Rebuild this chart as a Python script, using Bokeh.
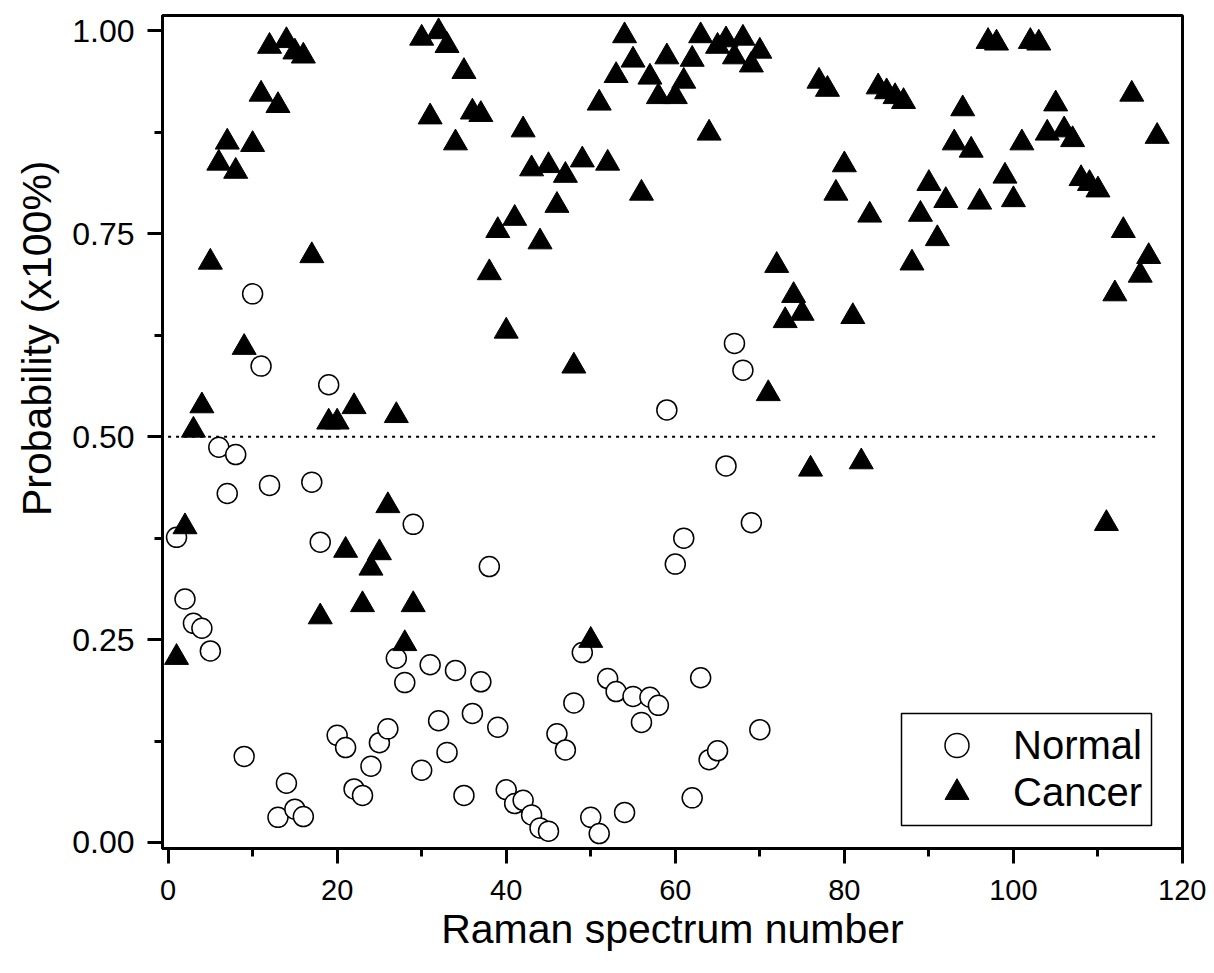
from bokeh.plotting import figure
from bokeh.models import (Range1d, Legend, LegendItem, SingleIntervalTicker, NumeralTickFormatter,
                          Title, BoxAnnotation)
from bokeh.embed import file_html
from bokeh.resources import INLINE

normal_x = list(range(1, 71))
normal_y = [0.376, 0.300, 0.270, 0.264, 0.236, 0.487, 0.430, 0.478, 0.106, 0.676,
            0.587, 0.440, 0.031, 0.073, 0.041, 0.032, 0.444, 0.370, 0.564, 0.132,
            0.117, 0.066, 0.058, 0.094, 0.123, 0.140, 0.227, 0.197, 0.392, 0.089,
            0.219, 0.150, 0.111, 0.212, 0.058, 0.159, 0.198, 0.340, 0.142, 0.065,
            0.048, 0.052, 0.034, 0.018, 0.014, 0.134, 0.114, 0.172, 0.234, 0.031,
            0.011, 0.202, 0.186, 0.037, 0.180, 0.148, 0.179, 0.169, 0.533, 0.343,
            0.375, 0.055, 0.203, 0.102, 0.113, 0.464, 0.615, 0.582, 0.394, 0.139]

cancer_x = list(range(1, 118))
cancer_y = [0.228, 0.389, 0.508, 0.538, 0.715, 0.837, 0.863, 0.827, 0.610, 0.860,
            0.922, 0.981, 0.908, 0.988, 0.974, 0.969, 0.723, 0.278, 0.518, 0.518,
            0.360, 0.537, 0.293, 0.338, 0.357, 0.415, 0.526, 0.245, 0.293, 0.991,
            0.894, 0.999, 0.982, 0.862, 0.950, 0.900, 0.897, 0.702, 0.754, 0.630,
            0.769, 0.878, 0.830, 0.740, 0.834, 0.785, 0.822, 0.587, 0.841, 0.249,
            0.911, 0.837, 0.945, 0.994, 0.964, 0.800, 0.943, 0.919, 0.968, 0.919,
            0.938, 0.965, 0.994, 0.874, 0.981, 0.989, 0.968, 0.991, 0.958, 0.975,
            0.553, 0.711, 0.643, 0.674, 0.652, 0.460, 0.938, 0.928, 0.800, 0.835,
            0.648, 0.469, 0.773, 0.931, 0.925, 0.919, 0.913, 0.714, 0.774, 0.812,
            0.744, 0.791, 0.862, 0.904, 0.853, 0.789, 0.987, 0.985, 0.821, 0.792,
            0.862, 0.987, 0.985, 0.874, 0.910, 0.878, 0.866, 0.818, 0.812, 0.804,
            0.393, 0.676, 0.754, 0.922, 0.699, 0.722, 0.870]

threshold_x = [0, 117]
threshold_y = [0.5, 0.5]

FONT = "Liberation Sans"

p = figure(width=1206, height=965, output_backend="svg", toolbar_location=None,
           x_range=Range1d(-0.66, 120), y_range=Range1d(-0.0074, 1.019),
           min_border_left=162, min_border_right=24, min_border_top=15, min_border_bottom=117)

p.xgrid.visible = False
p.ygrid.visible = False
p.outline_line_color = "black"
p.outline_line_width = 3
p.outline_line_alpha = 1

p.xaxis.ticker = SingleIntervalTicker(interval=20, num_minor_ticks=2)
p.yaxis.ticker = SingleIntervalTicker(interval=0.25, num_minor_ticks=2)
p.yaxis.formatter = NumeralTickFormatter(format="0.00")

for ax in (p.xaxis, p.yaxis):
    ax.axis_line_width = 3
    ax.major_tick_line_width = 3
    ax.minor_tick_line_width = 3
    ax.major_tick_in = 0
    ax.major_tick_out = 15
    ax.minor_tick_in = 0
    ax.minor_tick_out = 8
    ax.major_label_text_font = FONT
    ax.major_label_text_color = "black"
    ax.axis_label_text_font = FONT
    ax.axis_label_text_font_size = "41px"
    ax.axis_label_text_font_style = "normal"
    ax.axis_label_text_color = "black"

p.xaxis.major_label_text_font_size = "29px"
p.yaxis.major_label_text_font_size = "32px"
p.xaxis.major_label_standoff = 16
p.yaxis.major_label_standoff = 13
p.xaxis.axis_label = "Raman spectrum number"
p.xaxis.axis_label_standoff = 3

# y-axis title, placed off-centre (shifted up) as in the original
ytitle = Title(text="Probability (x100%)", align="right", offset=145, standoff=20,
               text_font=FONT, text_font_size="41px", text_font_style="normal",
               text_color="black")
p.add_layout(ytitle, "left")

p.line(threshold_x, threshold_y, line_color="black", line_width=2, line_dash="3 5")

r_n = p.scatter(normal_x, normal_y, marker="circle", size=20, fill_color="white",
                line_color="black", line_width=1.5)
r_c = p.scatter(cancer_x, cancer_y, marker="triangle", size=24, fill_color="black",
                line_color="black", line_width=1)

box = BoxAnnotation(left=739, right=989, bottom=23, top=135,
                    left_units="screen", right_units="screen",
                    bottom_units="screen", top_units="screen",
                    fill_color="white", fill_alpha=1,
                    line_color="black", line_width=1.5, line_alpha=1)
p.add_layout(box)

common = dict(padding=0, spacing=0, margin=0, glyph_width=107, glyph_height=60,
              label_height=60, label_standoff=3, label_text_font=FONT,
              label_text_font_size="40px", label_text_color="black",
              border_line_color=None, background_fill_alpha=0)
leg_n = Legend(items=[LegendItem(label="Normal", renderers=[r_n])], location=(741, 73), **common)
leg_c = Legend(items=[LegendItem(label="Cancer", renderers=[r_c])], location=(741, 26), **common)
p.add_layout(leg_n)
p.add_layout(leg_c)

open("out.html", "w").write(file_html(p, INLINE))
